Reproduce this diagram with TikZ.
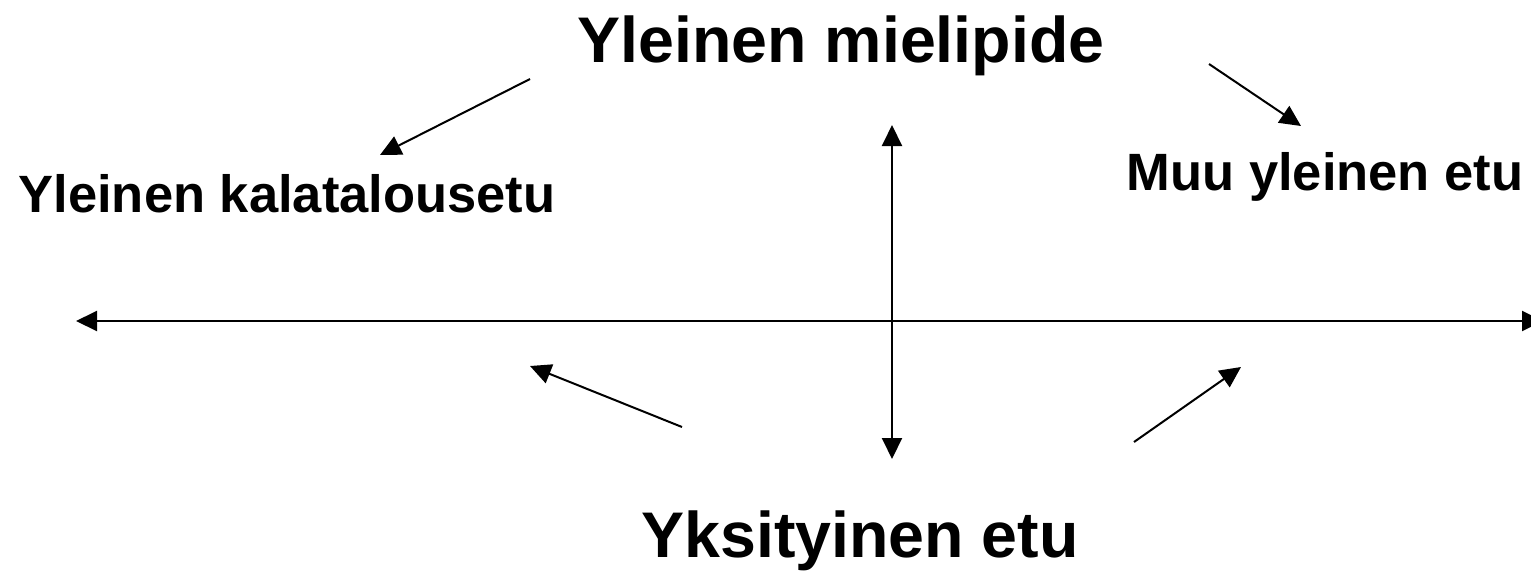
\documentclass[tikz,border=0pt]{standalone}
\usepackage{fontspec}
\setmainfont{Liberation Sans}
\usetikzlibrary{arrows.meta}
\begin{document}
\begin{tikzpicture}[x=1pt,y=-1pt,
  conn/.style={line width=2pt,-{Triangle[length=21pt,width=20pt]}},
  both/.style={line width=2pt,{Triangle[length=21pt,width=20pt]}-{Triangle[length=21pt,width=20pt]}},
  big/.style={font=\fontsize{64.5}{78}\selectfont\bfseries,inner sep=0pt,anchor=base},
  mid/.style={font=\fontsize{52.5}{62}\selectfont\bfseries,inner sep=0pt,anchor=base}]
\useasboundingbox (0,0) rectangle (1531,571);
\clip (0,0) rectangle (1531,571);
\node[big] (top) at (841,62) {Yleinen mielipide};
\node[big] (bot) at (860,557) {Yksityinen etu};
\node[mid] (left) at (287,212) {Yleinen kalatalousetu};
\node[mid] (right) at (1325,190) {Muu yleinen etu};
\coordinate (hl) at (76,321);
\coordinate (hr) at (1543,321);
\coordinate (vt) at (892,125);
\coordinate (vb) at (892,459);
\draw[both] (hl) -- (hr);
\draw[both] (vt) -- (vb);
\coordinate (a1s) at (530,79);
\coordinate (a1e) at (380,155);
\coordinate (a2s) at (1209,64);
\coordinate (a2e) at (1301,126);
\coordinate (a3s) at (682,427);
\coordinate (a3e) at (530,366);
\coordinate (a4s) at (1134,442);
\coordinate (a4e) at (1241,367);
\draw[conn] (a1s) -- (a1e);
\draw[conn] (a2s) -- (a2e);
\draw[conn] (a3s) -- (a3e);
\draw[conn] (a4s) -- (a4e);
\end{tikzpicture}
\end{document}
